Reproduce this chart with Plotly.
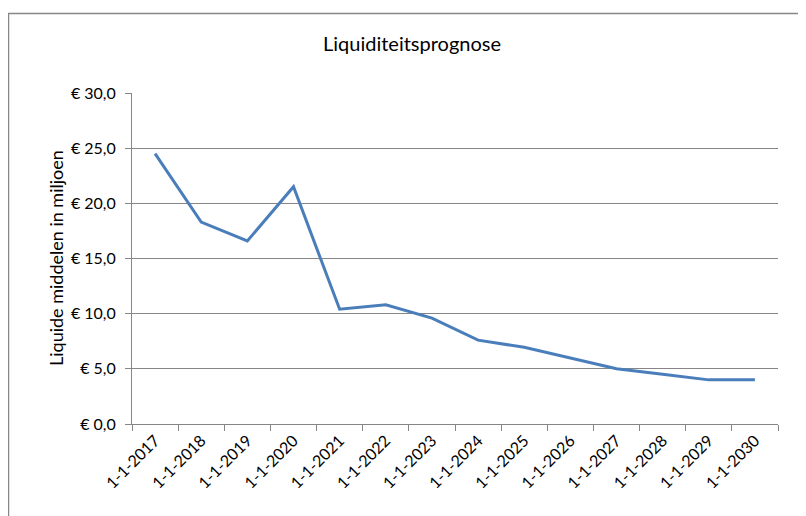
import plotly.graph_objects as go

categories = ["1-1-2017", "1-1-2018", "1-1-2019", "1-1-2020", "1-1-2021", "1-1-2022", "1-1-2023",
              "1-1-2024", "1-1-2025", "1-1-2026", "1-1-2027", "1-1-2028", "1-1-2029", "1-1-2030"]
values = [24.5, 18.3, 16.6, 21.5, 10.4, 10.8, 9.6, 7.6, 6.95, 6.0, 5.0, 4.5, 4.0, 4.0]
y_tickvals = [0, 5, 10, 15, 20, 25, 30]
y_ticktext = ["€ 0,0", "€ 5,0", "€ 10,0", "€ 15,0", "€ 20,0", "€ 25,0", "€ 30,0"]

FONT = "Lato"
GRID = "#868686"

fig = go.Figure()
fig.add_trace(go.Scatter(x=categories, y=values, mode="lines",
                         line=dict(color="#4A7EBB", width=3), showlegend=False,
                         hoverinfo="skip"))

# page has an 8px body margin; work in figure coordinates (page - 8)
OFF = 8
W, H = 806, 516
L, T = 132 - OFF, 93 - OFF
B = H - (424 - OFF)
R = W - (778 - OFF)
pw, ph = W - L - R, H - T - B

def px(x):
    return (x - OFF - L) / pw

def py(y):
    return (H - B - (y - OFF)) / ph

fig.update_layout(
    width=W, height=H,
    margin=dict(l=L, r=R, t=T, b=B, autoexpand=False),
    paper_bgcolor="white", plot_bgcolor="white",
    font=dict(family=FONT, color="#000000", size=16),
    title=dict(text="Liquiditeitsprognose", x=(412 - OFF) / W, xanchor="center",
               y=1 - (44 - OFF) / H, yanchor="middle", yref="container",
               font=dict(family=FONT, size=20, color="#000000")),
    xaxis=dict(type="category", tickangle=-45, tickson="boundaries",
               ticks="outside", ticklen=6, tickcolor=GRID,
               showline=True, linecolor=GRID, linewidth=1,
               showgrid=False, tickfont=dict(family=FONT, size=16),
               range=[-0.5, len(categories) - 0.5]),
    yaxis=dict(range=[0, 30], tickvals=y_tickvals, ticktext=y_ticktext,
               ticks="outside", ticklen=6, tickcolor=GRID,
               showline=True, linecolor=GRID, linewidth=1,
               showgrid=True, gridcolor=GRID, gridwidth=1, zeroline=False,
               ticklabelstandoff=6,
               tickfont=dict(family=FONT, size=16)),
    annotations=[
        dict(text="Liquide middelen in miljoen", textangle=-90,
             xref="paper", yref="paper", x=px(56), y=py(258),
             xanchor="center", yanchor="middle", showarrow=False,
             font=dict(family=FONT, size=18, color="#000000")),
    ],
    shapes=[
        dict(type="rect", xref="paper", yref="paper",
             x0=px(8.5), x1=px(830), y0=py(540), y1=py(13.5),
             line=dict(color="#878787", width=1.5), fillcolor="rgba(0,0,0,0)",
             layer="below"),
    ],
)

fig.write_html("out.html")
